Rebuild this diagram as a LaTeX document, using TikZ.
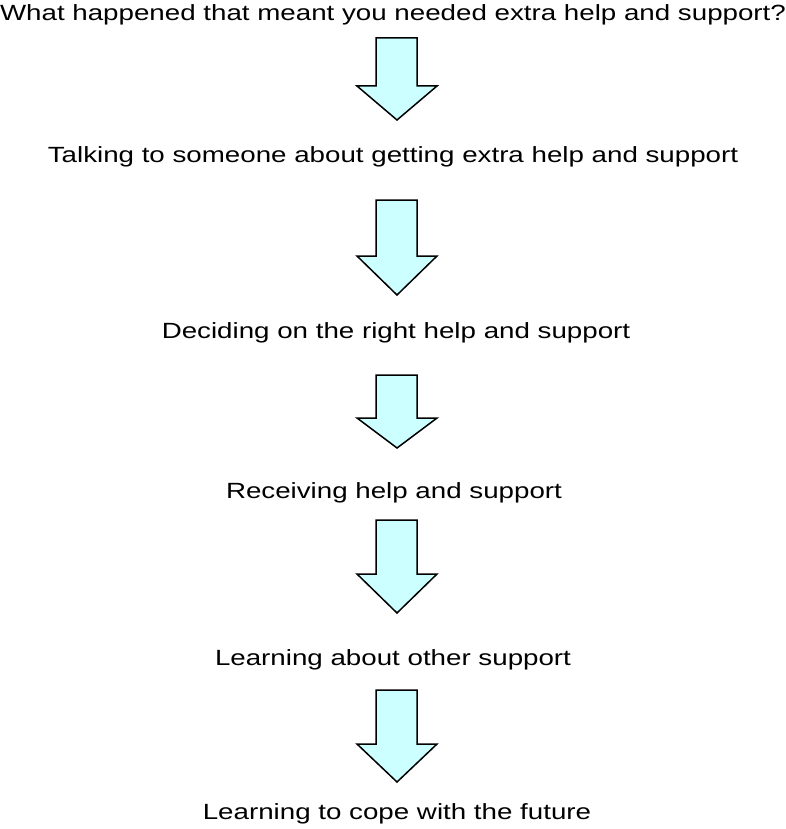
\documentclass[tikz,border=0pt]{standalone}
\usepackage{fontspec}
\setmainfont{Liberation Sans}
\newfontfamily\stagefont[FakeStretch=1.26]{Liberation Sans}
\usetikzlibrary{positioning}
\definecolor{ink}{HTML}{000000}
\definecolor{arrowfill}{HTML}{CCFFFF}
\tikzset{
  stage/.style={anchor=base, inner sep=0pt, font=\stagefont\fontsize{22}{26}\selectfont, text=ink},
  blockarrow/.style={draw=ink, fill=arrowfill, line width=1.5pt, line join=miter},
}
\begin{document}
\begin{tikzpicture}[x=1pt, y=-1pt]
    \useasboundingbox (0,0) rectangle (786,829);
    \node[stage] (what)    at (393,21)  {What happened that meant you needed extra help and support?};
    \node[stage] (talk)    at (393,163) {Talking to someone about getting extra help and support};
    \node[stage] (decide)  at (396,338) {Deciding on the right help and support};
    \node[stage] (receive) at (394,498) {Receiving help and support};
    \node[stage] (learn)   at (393,665) {Learning about other support};
    \node[stage] (cope)    at (397,819) {Learning to cope with the future};
    % block arrows between the stages: top, neck, tip
    \foreach \t/\n/\p in {38/86/120, 200/256/295, 375/418/448, 520/574/613, 690/744/782}
      \draw[blockarrow] (376,\t) -- (417,\t) -- (417,\n) -- (437,\n) -- (397,\p)
                        -- (357,\n) -- (376,\n) -- cycle;
\end{tikzpicture}
\end{document}
